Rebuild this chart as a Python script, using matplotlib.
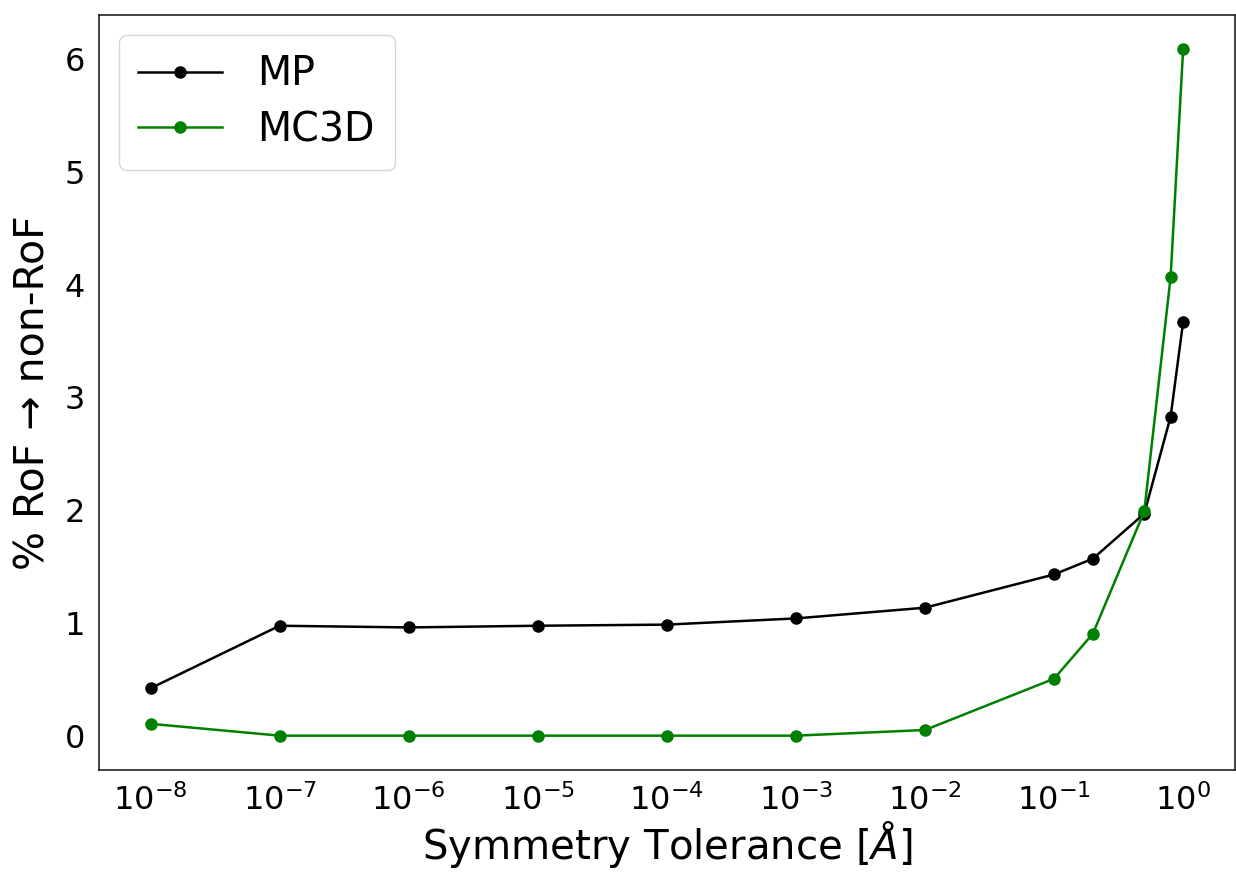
import numpy as np
import matplotlib
matplotlib.use("Agg")
from matplotlib import pyplot as plt

tol = [1e-8, 1e-7, 1e-6, 1e-5, 1e-4, 1e-3, 1e-2, 0.1, 0.2, 0.5, 0.8, 1.0]
mp = [0.42, 0.975, 0.96, 0.975, 0.985, 1.04, 1.135, 1.43, 1.57, 1.97, 2.83, 3.67]
mc3d = [0.105, 0.0, 0.0, 0.0, 0.0, 0.0, 0.05, 0.505, 0.905, 1.99, 4.07, 6.09]

plt.rcParams['font.family'] = ['DejaVu Sans']
fig = plt.figure(figsize=(12.36, 8.72), dpi=100)
ax = fig.add_axes([0.080, 0.117, 0.919, 0.866])

ax.plot(tol, mp, 'o-', color='black', lw=1.8, ms=8, label='MP')
ax.plot(tol, mc3d, 'o-', color='green', lw=1.8, ms=8, label='MC3D')
ax.set_xscale('log')
ax.set_xticks([10.0**k for k in range(-8, 1)])
ax.minorticks_off()
ax.tick_params(axis='both', labelsize=23, length=0, pad=10)
ax.set_xlabel('Symmetry Tolerance [$\\AA$]', fontsize=29, labelpad=2)
ax.set_ylabel('% RoF → non-RoF', fontsize=29.5, labelpad=8)
for s in ax.spines.values():
    s.set_color('#222222')
    s.set_linewidth(1.2)
leg = ax.legend(loc='upper left', fontsize=28.5, handlelength=2.1, borderpad=0.5,
                labelspacing=0.4, handletextpad=0.9)
leg.get_frame().set_edgecolor('#cccccc')
fig.savefig('out.png', dpi=100)
